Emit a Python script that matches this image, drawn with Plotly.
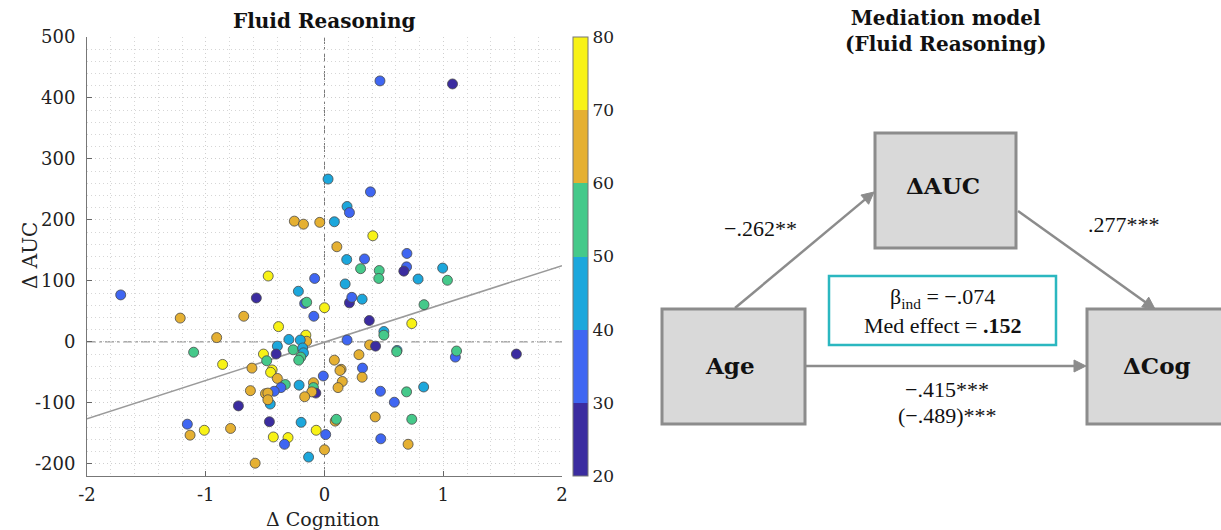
import math
import plotly.graph_objects as go

W, H = 1221, 530

# ---------------- data ----------------
cog = [0.467, 1.078, 0.03, 0.387, 0.19, 0.21, -0.254, -0.177, -0.04, 0.083,
       0.407, 0.104, 0.187, 0.337, 0.694, 0.304, 0.461, 0.457, 0.691, 0.668,
       0.788, 0.995, 1.035, -0.474, -0.083, 0.174, -0.22, -1.716, -0.574, -0.167,
       -0.15, 0.21, 0.23, 0.317, 0.838, 0.0, -1.215, -0.68, -0.09, 0.377,
       0.735, -0.387, -0.908, -0.157, -0.15, -0.3, -0.204, 0.19, 0.5, 0.5,
       0.38, 0.43, -0.397, -0.264, -0.184, -1.102, -0.514, -0.407, -0.177, -0.2,
       -0.217, 0.611, 0.608, 1.102, 1.112, 1.616, 0.29, 0.083, -0.858, -0.487,
       -0.611, -0.441, -0.454, -0.397, 0.14, 0.13, 0.32, 0.317, -0.01, 0.15,
       0.114, -0.33, -0.214, -0.093, -0.093, -0.367, -0.424, -0.624, -0.497, -0.477,
       -0.073, -0.107, -0.167, 0.471, 0.691, 0.835, -0.457, -0.477, -0.725, 0.588,
       -1.155, -1.132, -1.012, -0.791, -0.464, -0.197, 0.09, 0.1, 0.427, 0.735,
       -0.431, -0.307, -0.07, 0.01, 0.474, -0.337, 0.704, -0.134, 0.0, -0.584]
auc = [428, 423, 267, 246, 222, 212, 198, 193, 196, 197,
       174, 156, 135, 136, 145, 120, 117, 104, 123, 116,
       103, 121, 101, 108, 104, 95, 83, 77, 72, 63,
       65, 64, 73, 70, 61, 56, 39, 42, 42, 35,
       30, 25, 7, 11, 1, 4, 3, 3, 17, 11,
       -5, -7, -7, -13, -10, -17, -20, -20, -18, -25,
       -30, -14, -16, -25, -15, -20, -21, -30, -37, -31,
       -43, -46, -50, -60, -45, -47, -43, -58, -56, -65,
       -75, -70, -71, -67, -75, -75, -81, -80, -85, -84,
       -84, -82, -90, -81, -82, -74, -102, -95, -105, -99,
       -135, -153, -145, -142, -131, -132, -130, -127, -123, -127,
       -156, -157, -145, -152, -159, -168, -168, -189, -177, -199]
age = [34, 26, 45, 37, 44, 33, 64, 66, 63, 46,
       74, 67, 43, 36, 32, 55, 53, 56, 38, 24,
       47, 42, 57, 76, 35, 48, 41, 36, 23, 34,
       54, 27, 33, 44, 52, 73, 65, 68, 38, 25,
       77, 72, 66, 75, 62, 46, 43, 32, 45, 56,
       64, 28, 44, 53, 47, 55, 78, 22, 41, 57,
       52, 48, 54, 36, 55, 24, 63, 67, 74, 51,
       65, 76, 71, 62, 66, 68, 35, 64, 33, 69,
       61, 58, 42, 63, 56, 37, 31, 67, 62, 65,
       26, 61, 68, 34, 57, 44, 45, 63, 27, 39,
       36, 66, 73, 64, 29, 43, 69, 51, 62, 55,
       71, 77, 74, 35, 31, 38, 66, 45, 63, 68]

fit_x = [-2, 2]
fit_y = [-126, 125]

x_ticks = [-2, -1, 0, 1, 2]
y_ticks = [-200, -100, 0, 100, 200, 300, 400, 500]
age_ticks = [20, 30, 40, 50, 60, 70, 80]
bin_colors = ['#3b2ca0', '#3f66f2', '#1ca7dc', '#45c98a', '#e5b032', '#f8f215']

# mediation model text
med_title = "<b>Mediation model</b><br><b>(Fluid Reasoning)</b>"
path_a = "\u2212.262**"
path_b = ".277***"
path_c = "\u2212.415***"
path_c_total = "(\u2212.489)***"
ind_text = "\u03b2<sub>ind</sub> = \u2212.074"
med_text = "Med effect = <b>.152</b>"

# ---------------- helpers ----------------
def px(x):
    return x / W

def py(y):
    return 1 - y / H

cmin, cmax = age_ticks[0], age_ticks[-1]
cs = []
for i, c in enumerate(bin_colors):
    lo = (age_ticks[i] - cmin) / (cmax - cmin)
    hi = (age_ticks[i + 1] - cmin) / (cmax - cmin)
    cs.append([lo, c])
    cs.append([hi, c])

SERIF = "DejaVu Serif"
TIMES = "Liberation Serif"

fig = go.Figure()

fig.add_trace(go.Scatter(x=fit_x, y=fit_y, mode='lines',
                         line=dict(color='#9a9a9a', width=1.5),
                         hoverinfo='skip', showlegend=False))

fig.add_trace(go.Scatter(
    x=cog, y=auc, mode='markers', showlegend=False,
    marker=dict(size=10, color=age, colorscale=cs, cmin=cmin, cmax=cmax,
                line=dict(width=0.8, color='#4a4a4a'),
                colorbar=dict(x=573 / W, xanchor='left', xpad=0,
                              y=(H - 476) / H, yanchor='bottom', ypad=0,
                              len=439, lenmode='pixels',
                              thickness=15, thicknessmode='pixels',
                              outlinewidth=1, outlinecolor='#777',
                              tickvals=age_ticks, ticks='',
                              tickfont=dict(family=SERIF, size=17, color='#222'))),
))

ax_x0, ax_x1 = 87, 562
ax_top, ax_bot = 37, 476
tickfont = dict(family=SERIF, size=18, color='#222')
grid_common = dict(showgrid=True, gridcolor='#cfcfcf', griddash='1px,3px', gridwidth=1)

fig.update_layout(
    template='none',
    width=W, height=H,
    margin=dict(l=0, r=0, t=0, b=0, pad=0, autoexpand=False),
    paper_bgcolor='white', plot_bgcolor='white',
    xaxis=dict(domain=[ax_x0 / W, ax_x1 / W], range=[-2, 2], automargin=False,
               tickvals=x_ticks, ticktext=[str(v) for v in x_ticks],
               ticks='inside', ticklen=5, tickcolor='#666', ticklabelstandoff=2,
               showline=True, linecolor='#777', linewidth=1,
               minor=dict(dtick=0.2, tick0=0, showgrid=True, gridcolor='#d6d6d6',
                          griddash='1px,3px'),
               zeroline=False, tickfont=tickfont, fixedrange=True, **grid_common),
    yaxis=dict(domain=[(H - ax_bot) / H, (H - ax_top) / H], range=[-220, 500],
               automargin=False,
               tickvals=y_ticks, ticktext=[str(v) for v in y_ticks],
               ticks='inside', ticklen=5, tickcolor='#666', ticklabelstandoff=7,
               showline=True, linecolor='#777', linewidth=1,
               minor=dict(dtick=20, tick0=0, showgrid=True, gridcolor='#d6d6d6',
                          griddash='1px,3px'),
               zeroline=False, tickfont=tickfont, fixedrange=True, **grid_common),
)

shapes = [
    dict(type='line', xref='x', yref='y', x0=0, x1=0, y0=-220, y1=500,
         line=dict(color='#7a7a7a', width=1, dash='dashdot'), layer='below'),
    dict(type='line', xref='x', yref='y', x0=-2, x1=2, y0=0, y1=0,
         line=dict(color='#7a7a7a', width=1, dash='dashdot'), layer='below'),
]

box_fill, box_line = '#d9d9d9', '#8c8c8c'
for (x0, y0, x1, y1) in [(875, 133, 1016, 248), (662, 309, 805, 424), (1087, 309, 1230, 424)]:
    shapes.append(dict(type='rect', xref='paper', yref='paper',
                       x0=px(x0), x1=px(x1), y0=py(y1), y1=py(y0),
                       fillcolor=box_fill, line=dict(color=box_line, width=3)))
shapes.append(dict(type='rect', xref='paper', yref='paper',
                   x0=px(829), x1=px(1056), y0=py(345), y1=py(276),
                   fillcolor='white', line=dict(color='#2bb7c0', width=2.5)))

# arrows (Age -> dAUC, dAUC -> dCog, Age -> dCog): shaft + filled head
arrow_col = '#8c8c8c'
head_len, head_half = 12, 6
for (hx, hy, tx, ty) in [(874, 192, 735, 308), (1155, 309, 1018, 211), (1086, 366, 806, 366)]:
    L = math.hypot(hx - tx, hy - ty)
    dx, dy = (hx - tx) / L, (hy - ty) / L
    bx, by = hx - dx * head_len, hy - dy * head_len
    nx, ny = -dy, dx
    shapes.append(dict(type='line', xref='paper', yref='paper',
                       x0=px(tx), y0=py(ty), x1=px(bx + dx * 2), y1=py(by + dy * 2),
                       line=dict(color=arrow_col, width=2.5)))
    p1 = (px(hx), py(hy))
    p2 = (px(bx + nx * head_half), py(by + ny * head_half))
    p3 = (px(bx - nx * head_half), py(by - ny * head_half))
    shapes.append(dict(type='path', xref='paper', yref='paper',
                       path=f"M {p1[0]},{p1[1]} L {p2[0]},{p2[1]} L {p3[0]},{p3[1]} Z",
                       fillcolor=arrow_col, line=dict(color=arrow_col, width=1)))

annotations = [
    dict(text="<b>Fluid Reasoning</b>", x=px(324), y=py(21), xref='paper', yref='paper',
         showarrow=False, xanchor='center', yanchor='middle',
         font=dict(family=SERIF, size=20, color='#111')),
    dict(text="\u0394 Cognition", x=px(323), y=py(519), xref='paper', yref='paper',
         showarrow=False, xanchor='center', yanchor='middle',
         font=dict(family=SERIF, size=19, color='#222')),
    dict(text="\u0394 AUC", x=px(30), y=py(255), xref='paper', yref='paper',
         showarrow=False, xanchor='center', yanchor='middle', textangle=-90,
         font=dict(family=SERIF, size=20, color='#222')),
    dict(text=med_title, x=px(945), y=py(31), xref='paper', yref='paper',
         showarrow=False, xanchor='center', yanchor='middle',
         font=dict(family=SERIF, size=20, color='#111')),
]

def label(text, x, y, size, family=TIMES):
    annotations.append(dict(text=text, x=px(x), y=py(y), xref='paper', yref='paper',
                            showarrow=False, xanchor='center', yanchor='middle',
                            font=dict(family=family, size=size, color='#111')))

label("<b>\u0394AUC</b>", 943, 186, 23, SERIF)
label("<b>Age</b>", 730, 365, 23, SERIF)
label("<b>\u0394Cog</b>", 1157, 365, 23, SERIF)
label(path_a, 760, 228, 22)
label(path_b, 1124, 224, 22)
label(path_c, 947, 389, 22)
label(path_c_total, 947, 415, 22)
label(ind_text, 942, 298, 22)
label(med_text, 942, 325, 22)

fig.update_layout(shapes=shapes, annotations=annotations)

fig.write_html("out.html")
